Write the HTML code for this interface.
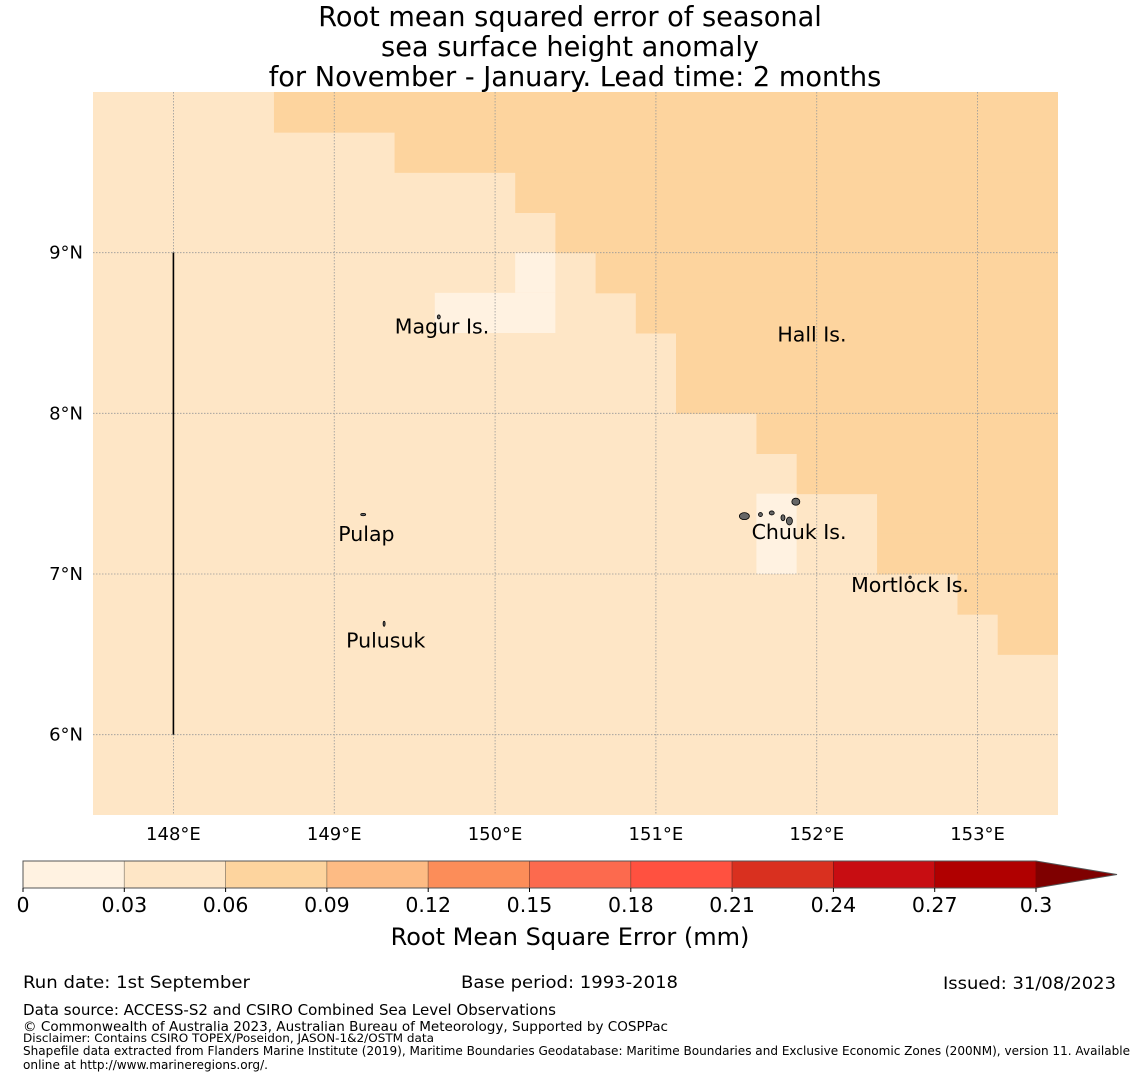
<!DOCTYPE html>
<html><head><meta charset="utf-8"><style>
html,body{margin:0;padding:0;background:#fff;}
svg{display:block;font-family:"DejaVu Sans","Liberation Sans",sans-serif;}
</style></head><body>
<svg id="chart" width="1140" height="1080" viewBox="0 0 1140 1080" xmlns="http://www.w3.org/2000/svg">
<g font-size="27.2" text-anchor="middle" fill="#000">
<text x="570" y="26">Root mean squared error of seasonal</text>
<text x="570" y="56">sea surface height anomaly</text>
<text x="575" y="86">for November - January. Lead time: 2 months</text>
</g>
<g id="map"></g>
<g id="cbar"></g>
<text x="570" y="945" font-size="24" text-anchor="middle">Root Mean Square Error (mm)</text>
<g fill="#000">
<text x="23" y="988" font-size="17" textLength="227" lengthAdjust="spacingAndGlyphs">Run date: 1st September</text>
<text x="461" y="988" font-size="17" textLength="217" lengthAdjust="spacingAndGlyphs">Base period: 1993-2018</text>
<text x="943" y="989" font-size="17" textLength="173" lengthAdjust="spacingAndGlyphs">Issued: 31/08/2023</text>
<text x="23" y="1015" font-size="15" textLength="533" lengthAdjust="spacingAndGlyphs">Data source: ACCESS-S2 and CSIRO Combined Sea Level Observations</text>
<text x="23" y="1031" font-size="13" textLength="645" lengthAdjust="spacingAndGlyphs">© Commonwealth of Australia 2023, Australian Bureau of Meteorology, Supported by COSPPac</text>
<text x="23" y="1042" font-size="11.5" textLength="411" lengthAdjust="spacingAndGlyphs">Disclaimer: Contains CSIRO TOPEX/Poseidon, JASON-1&amp;2/OSTM data</text>
<text x="23" y="1055" font-size="12.5" textLength="1107" lengthAdjust="spacingAndGlyphs">Shapefile data extracted from Flanders Marine Institute (2019), Maritime Boundaries Geodatabase: Maritime Boundaries and Exclusive Economic Zones (200NM), version 11. Available</text>
<text x="23" y="1069" font-size="12.5" textLength="245" lengthAdjust="spacingAndGlyphs">online at http://www.marineregions.org/.</text>
</g>
</svg>
<script>
// Data
const rowTopLats = [10,9.75,9.5,9.25,9,8.75,8.5,8.25,8,7.75,7.5,7.25,7,6.75,6.5,6.25,6,5.75];
const darkStartLon = [148.625,149.375,150.125,150.375,150.625,150.875,151.125,151.125,151.625,151.875,152.375,152.375,152.875,153.125,null,null,null,null];
const lightestCells = [[150.125,150.375,9.0,8.75],[149.625,150.375,8.75,8.5],[151.625,151.875,7.5,7.0]];
const lonTicks = [148,149,150,151,152,153];
const latTicks = [6,7,8,9];
const levels = [0,0.03,0.06,0.09,0.12,0.15,0.18,0.21,0.24,0.27,0.3];
const levelLabels = ['0','0.03','0.06','0.09','0.12','0.15','0.18','0.21','0.24','0.27','0.3'];
const colors = ['#fff2e1','#fee6c6','#fdd49e','#fdbb84','#fc8d59','#fc6a4e','#ff5140','#d9301f','#c80d12','#b00000'];
const overColor = '#7f0000';
const placeNames = ['Magur Is.','Hall Is.','Pulap','Chuuk Is.','Mortlock Is.','Pulusuk'];
const placeLons = [149.67,151.97,149.2,151.89,152.58,149.32];
const placeLats = [8.54,8.49,7.25,7.26,6.93,6.585];

const NS='http://www.w3.org/2000/svg';
const lonMin=147.5, lonMax=153.5, latMin=5.5, latMax=10;
const X0=93,X1=1058,Y0=92,Y1=815;
const xs=lon=>X0+(lon-lonMin)/(lonMax-lonMin)*(X1-X0);
const ys=lat=>Y0+(latMax-lat)/(latMax-latMin)*(Y1-Y0);
function mk(tag,attrs,parent){const e=document.createElementNS(NS,tag);for(const k in attrs)e.setAttribute(k,attrs[k]);parent.appendChild(e);return e;}
const map=document.getElementById('map');
let r=mk('rect',{x:X0,y:Y0,width:X1-X0,height:Y1-Y0,fill:colors[1]},map);


rowTopLats.forEach((lt,i)=>{
  if(darkStartLon[i]===null)return;
  const c=mk('rect',{x:xs(darkStartLon[i]),y:ys(lt),width:X1-xs(darkStartLon[i]),height:ys(lt-0.25)-ys(lt)+0.5,fill:colors[2]},map);
  
  
});
lightestCells.forEach(cl=>{
  const c=mk('rect',{x:xs(cl[0]),y:ys(cl[2]),width:xs(cl[1])-xs(cl[0]),height:ys(cl[3])-ys(cl[2]),fill:colors[0]},map);
  
  
});
lonTicks.forEach(l=>{
  const g=mk('line',{x1:xs(l),x2:xs(l),y1:Y0,y2:Y1,stroke:'#999','stroke-width':0.8,'stroke-dasharray':'1.5,1.5'},map);
  
  
  const t=mk('text',{x:xs(l),y:840,'font-size':18,'text-anchor':'middle'},map);
  t.textContent=l+'°E';
  
  
});
latTicks.forEach(l=>{
  const g=mk('line',{x1:X0,x2:X1,y1:ys(l),y2:ys(l),stroke:'#999','stroke-width':0.8,'stroke-dasharray':'1.5,1.5'},map);
  
  
  const t=mk('text',{x:83,y:ys(l)+6,'font-size':18,'text-anchor':'end'},map);
  t.textContent=l+'°N';
  
  
});
let vl=mk('line',{x1:xs(148),x2:xs(148),y1:ys(9),y2:ys(6),stroke:'#000','stroke-width':1.6},map);


const isl=[[151.55,7.36,5,3.5],[151.87,7.45,4,3.5],[151.83,7.33,3,4],[151.72,7.38,2.5,2],[151.65,7.37,2,2],[151.79,7.35,2,3],[149.65,8.6,1.5,2],[149.18,7.37,2.5,1.2],[149.31,6.69,1,2.5],[152.58,6.98,1.2,1.2]];
isl.forEach(s=>{
  const e=mk('ellipse',{cx:xs(s[0]),cy:ys(s[1]),rx:s[2],ry:s[3],fill:'#666',stroke:'#000','stroke-width':0.8},map);
  
  
});
placeNames.forEach((n,i)=>{
  const t=mk('text',{x:xs(placeLons[i]),y:ys(placeLats[i])+7,'font-size':20.5,'text-anchor':'middle'},map);
  t.textContent=n;
  
  
});
const cb=document.getElementById('cbar');
const CX0=23,CX1=1036,CY0=861,CY1=888;
const cx=v=>CX0+(v-levels[0])/(levels[levels.length-1]-levels[0])*(CX1-CX0);
colors.forEach((c,i)=>{
  const rr=mk('rect',{x:cx(levels[i]),y:CY0,width:cx(levels[i+1])-cx(levels[i]),height:CY1-CY0,fill:c,stroke:'rgba(0,0,0,0.3)','stroke-width':0.8},cb);
  
  
});
let ar=mk('polygon',{points:`${CX1},${CY0} 1117,${(CY0+CY1)/2} ${CX1},${CY1}`,fill:overColor},cb);


let ol=mk('polygon',{points:`${CX0},${CY0} ${CX1},${CY0} 1117,${(CY0+CY1)/2} ${CX1},${CY1} ${CX0},${CY1}`,fill:'none',stroke:'#555','stroke-width':1},cb);


levels.forEach((v,i)=>{
  mk('line',{x1:cx(v),x2:cx(v),y1:CY1,y2:CY1+4,stroke:'#000'},cb);
  const t=mk('text',{x:cx(v),y:912,'font-size':20.5,'text-anchor':'middle'},cb);
  t.textContent=levelLabels[i];
  
  
});
</script>
</body></html>
